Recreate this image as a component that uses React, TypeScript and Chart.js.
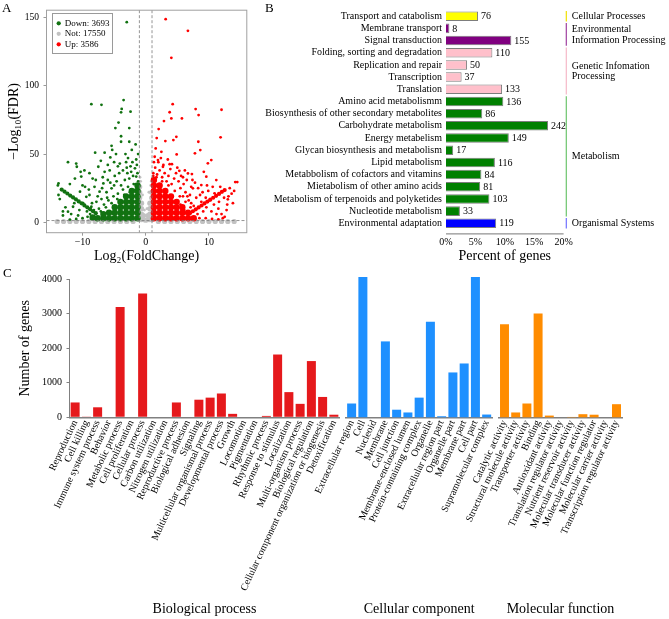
import React, { useEffect, useRef } from "react";
import { Chart, registerables } from "chart.js";

Chart.register(...registerables);

const SERIF = "'Liberation Serif', 'Times New Roman', Times, serif";
Chart.defaults.font.family = SERIF;
Chart.defaults.color = "#000";

// ---------------- Panel A : volcano ----------------
const LEGEND_LABELS = ["Down: 3693", "Not: 17550", "Up: 3586"];
const FC_CUTS = [-1, 1];
const FDR_CUT = 1.3;
const GREEN = "#117211";
const RED = "#ff0000";
const GRAY = "#c2c2c2";

const DOWN_POINTS: number[][] = [
  [-3.0, 146.5], [-8.6, 86.5], [-7.0, 86], [-3.5, 89.5], [-3.8, 83], [-3.9, 80.5], [-2.4, 81], [-4.3, 73],
  [-4.8, 69], [-2.6, 69], [-3.9, 63], [-3.9, 59], [-2.6, 59], [-5.4, 56], [-5.3, 53], [-8.0, 51], [-6.5, 51],
  [-4.7, 50], [-5.6, 47.5], [-7.1, 45], [-11.0, 43], [-2.8, 47], [-1.5, 46], [-9.7, 38], [-10.3, 37], [-8.4, 32],
  [-12.0, 28], [-13.9, 27], [-13.8, 20], [-13.1, 8], [-13.1, 5], [-11.8, 6], [-10.7, 5], [-8.9, 36], [-7.5, 40.7],
  [-6.5, 37], [-5.7, 38], [-6.0, 31], [-4.9, 34], [-4.1, 43], [-3.6, 38], [-3.0, 40], [-2.3, 37], [-1.7, 39.5],
  [-4.6, 30], [-3.3, 31], [-2.6, 32], [-1.5, 33.5], [-8.1, 26], [-7.3, 22.4], [-9.4, 18.7], [-10.4, 22.4],
  [-6.7, 28.5], [-5.4, 24.9], [-9.9, 14], [-11.5, 11.4], [-8.6, 11.4], [-12.3, 7.8], [-12.3, 44], [-10.9, 40.7],
  [-10.2, 33.5], [-13.8, 28.5], [-13.6, 17], [-1.2, 30], [-1.9, 28], [-2.8, 26], [-3.6, 24], [-4.4, 21], [-5.1, 19],
  [-5.9, 16], [-6.6, 13], [-7.4, 10], [-8.2, 9], [-1.3, 36], [-2.0, 34], [-3.9, 27], [-5.0, 27], [-6.2, 22],
  [-7.0, 17], [-7.8, 15], [-9.0, 24], [-10.0, 27], [-11.2, 32], [-6.0, 42], [-5.0, 44], [-3.2, 50], [-2.2, 53],
  [-1.6, 57], [-4.4, 41], [-9.2, 4], [-10.0, 3], [-11.0, 2.5], [-12.0, 2], [-8.8, 6], [-1.4, 42], [-2.1, 44],
  [-2.9, 36], [-1.2, 50], [-1.1, 26], [-1.6, 24], [-2.5, 22], [-3.4, 20], [-4.5, 17], [-5.4, 14], [-6.3, 11], [-7.1, 8],
  [-8.5, 14], [-7.6, 19], [-8.9, 20], [-6.9, 25], [-6.1, 18], [-9.6, 26], [-7.9, 31], [-6.8, 33], [-5.6, 29],
  [-4.2, 36], [-3.1, 44], [-2.4, 41], [-9.3, 8], [-10.5, 9], [-11.3, 14], [-12.7, 11],
];
const DOWN_CORE: number[][] = [
  [-1.3, 3], [-1.3, 7], [-1.3, 11], [-1.3, 15], [-1.3, 19], [-1.3, 23], [-1.3, 27],
  [-2.2, 3], [-2.2, 7], [-2.2, 11], [-2.2, 15], [-2.2, 19], [-2.2, 23],
  [-3.1, 3], [-3.1, 7], [-3.1, 11], [-3.1, 15], [-3.1, 19],
  [-4.0, 3], [-4.0, 7], [-4.0, 11], [-4.0, 15],
  [-4.9, 3], [-4.9, 7], [-4.9, 11],
  [-5.8, 3], [-5.8, 7], [-6.7, 3], [-6.7, 6], [-7.6, 3], [-8.4, 3.5],
];
const DOWN_ARM: number[][] = [
  [-13.3, 24], [-12.85, 22.5], [-12.4, 21.1], [-11.95, 19.6], [-11.5, 18.2], [-11.05, 16.8], [-10.6, 15.3],
  [-10.15, 13.9], [-9.7, 12.4], [-9.25, 11], [-8.8, 9.6], [-8.35, 8.1], [-7.9, 6.7],
];
const UP_POINTS: number[][] = [
  [3.16, 148.7], [6.68, 140.2], [4.06, 120.4], [4.27, 86.5], [3.79, 80.6], [7.9, 82.9], [12.0, 82.4], [8.37, 78.5],
  [4.06, 76.1], [5.73, 76.1], [2.89, 74.1], [2.05, 68.3], [4.85, 62.6], [1.74, 61.7], [3.11, 59.5], [4.38, 60.2],
  [11.85, 62.2], [8.33, 59], [1.58, 54.1], [2.48, 51.6], [4.9, 49.7], [7.79, 50.5], [8.64, 52.9], [1.42, 48],
  [10.38, 45.6], [9.84, 43.2], [1.94, 45.6], [2.73, 40.7], [3.79, 42.6], [4.15, 42.6], [5.32, 37.7], [6.68, 35.8],
  [7.31, 35.3], [9.59, 33.4], [11.17, 30.9], [14.17, 29.5], [14.49, 29.5], [8.8, 27.3], [7.47, 24.9], [10.9, 21.2],
  [13.0, 16.8], [1.5, 40], [2.2, 38], [3.0, 36], [3.6, 34], [4.5, 32], [5.2, 30], [6.0, 28], [1.8, 35], [2.6, 33],
  [3.3, 30], [4.1, 28], [5.5, 25], [6.3, 22], [7.0, 20], [2.0, 44], [2.8, 42], [4.8, 36], [5.9, 33], [6.5, 31],
  [7.8, 29], [8.3, 25], [9.0, 22], [9.5, 18], [10.1, 16], [10.8, 13], [11.5, 10], [12.0, 6], [12.5, 4], [8.5, 3],
  [9.5, 3], [10.5, 2.5], [11.5, 2.2], [12.2, 3], [13.3, 25], [9.7, 27], [1.2, 36], [1.3, 44], [2.4, 47], [3.5, 46],
  [5.0, 40], [6.2, 38], [7.2, 26], [8.0, 18], [8.8, 15], [9.6, 11], [10.4, 8], [11.2, 6], [7.6, 12], [6.8, 16],
  [5.9, 19], [1.2, 34], [1.7, 33], [2.6, 30], [3.6, 27], [4.6, 23], [5.4, 19], [6.3, 15], [7.1, 11], [13.6, 21],
  [12.9, 13], [11.6, 15], [12.8, 9], [14.0, 23], [13.1, 19],
  [6.1, 9], [7.2, 14], [8.2, 6], [9.1, 8], [5.5, 13], [6.6, 19], [8.6, 20], [9.9, 23], [10.6, 26], [11.8, 26],
  [12.4, 18], [13.8, 14], [3.9, 39], [5.6, 34], [7.4, 31], [9.2, 37],
];
const UP_CORE: number[][] = [
  [1.3, 3], [1.3, 7], [1.3, 11], [1.3, 15], [1.3, 19], [1.3, 23], [1.3, 27], [1.3, 31],
  [2.2, 3], [2.2, 7], [2.2, 11], [2.2, 15], [2.2, 19], [2.2, 23], [2.2, 27],
  [3.1, 3], [3.1, 7], [3.1, 11], [3.1, 15], [3.1, 19], [3.1, 23],
  [4.0, 3], [4.0, 7], [4.0, 11], [4.0, 15], [4.0, 19],
  [4.9, 3], [4.9, 7], [4.9, 11], [4.9, 15],
  [5.8, 3], [5.8, 7], [5.8, 11], [6.7, 3], [6.7, 7], [7.6, 3],
];
const UP_ARM: number[][] = [
  [7.0, 6.7], [7.46, 8.1], [7.92, 9.5], [8.38, 10.9], [8.84, 12.3], [9.3, 13.8], [9.76, 15.2],
  [10.22, 16.6], [10.68, 18.0], [11.14, 19.4], [11.6, 20.8], [12.06, 22.3], [12.5, 23.6],
];
const NOT_POINTS: number[][] = [
  [-0.8, 30], [-0.5, 20], [0.5, 22], [0.8, 27], [-0.2, 9], [0.2, 10], [-0.9, 33], [0.9, 30],
];
const NOT_CORE: number[][] = [
  [-0.95, 2], [-0.95, 6], [-0.95, 10], [-0.95, 14], [-0.95, 18], [-0.95, 22], [-0.95, 26],
  [-0.65, 2], [-0.65, 6], [-0.65, 10], [-0.65, 14], [-0.35, 2], [-0.35, 5], [0, 1.5],
  [0.35, 2], [0.35, 5], [0.65, 2], [0.65, 6], [0.65, 10], [0.65, 14],
  [0.95, 2], [0.95, 6], [0.95, 10], [0.95, 14], [0.95, 18], [0.95, 22],
  [-14, 0.6], [-13, 0.6], [-12, 0.6], [-11, 0.6], [-10, 0.6], [-9, 0.6], [-8, 0.6], [-7, 0.6], [-6, 0.6],
  [-5, 0.6], [-4, 0.6], [-3, 0.6], [-2, 0.6], [2, 0.6], [3, 0.6], [4, 0.6], [5, 0.6], [6, 0.6], [7, 0.6],
  [8, 0.6], [9, 0.6], [10, 0.6], [11, 0.6], [12, 0.6], [13, 0.6], [14, 0.6],
];

// ---------------- Panel B : KEGG ----------------
const KEGG_LABELS = [
  "Transport and catabolism", "Membrane transport", "Signal transduction", "Folding, sorting and degradation",
  "Replication and repair", "Transcription", "Translation", "Amino acid metabolismm",
  "Biosynthesis of other secondary metabolites", "Carbohydrate metabolism", "Energy metabelism",
  "Glycan biosynthesis and metabolism", "Lipid metabolism", "Metabbolism of cofactors and vitamins",
  "Mietabolism of other amino acids", "Metabolism of terpenoids and polyketides", "Nucleotide metabolism",
  "Environmental adaptation",
];
const KEGG_COUNTS = [76, 8, 155, 110, 50, 37, 133, 136, 86, 242, 149, 17, 116, 84, 81, 103, 33, 119];
const KEGG_TOTAL = 1395;
const KEGG_PERCENT_TICKS = [0, 5, 10, 15, 20];
const KEGG_GROUP_NAMES = [
  ["Cellular Processes"], ["Environmental", "Information Processing"], ["Genetic Infomation", "Processing"],
  ["Metabolism"], ["Organismal Systems"],
];
const KEGG_GROUP_SPANS = [[0, 0], [1, 2], [3, 6], [7, 16], [17, 17]];
const KEGG_GROUP_COLORS = ["#ffff00", "#800080", "#ffc0cb", "#008000", "#0000ff"];
const KEGG_LINE_COLORS = ["#f0e000", "#a040a0", "#f5b8c8", "#6cc46c", "#7070ff"];

// ---------------- Panel C : GO ----------------
const BP_LABELS = [
  "Reproduction", "Cell killing", "Immune system process", "Behavior", "Metabolic process", "Cell proliferation",
  "Cellular process", "Carbon utilization", "Nitrogen utilization", "Reproductive process", "Biological adhesion",
  "Signaling", "Multicellular organismal process", "Developmental process", "Growth", "Locomotion", "Pigmentation",
  "Rhythmic process", "Response to stimulus", "Localization", "Multi-organism process", "Biological regulation",
  "Cellular component organization or biogenesis", "Detoxification",
];
const BP_VALUES = [430, 20, 290, 0, 3200, 0, 3590, 0, 0, 430, 0, 510, 570, 690, 100, 0, 0, 40, 1820, 730, 390, 1630, 590, 75];
const CC_LABELS = [
  "Extracellular region", "Cell", "Nucleoid", "Membrane", "Cell junction", "Membrane-enclosed lumen",
  "Protein-containing complex", "Organelle", "Extracellular region part", "Organelle part", "Membrane part",
  "Cell part", "Supramolecular complex",
];
const CC_VALUES = [400, 4070, 0, 2200, 220, 140, 570, 2770, 30, 1300, 1560, 4070, 80];
const MF_LABELS = [
  "Catalytic activity", "Structural molecule activity", "Transporter activity", "Binding", "Antioxidant activity",
  "Translation regulator activity", "Nutrient reservoir activity", "Molecular transducer activity",
  "Molecular function regulator", "Molecular carrier activity", "Transcription regulator activity",
];
const MF_VALUES = [2700, 140, 400, 3010, 50, 0, 10, 90, 75, 0, 380];
const GO_MAX = 4000;
const GO_STEP = 1000;

// ---------------- helpers ----------------
const pts = (arr: number[][]) => arr.map(([x, y]) => ({ x, y }));
const signed = (v: number) => (v < 0 ? "\u2212" + Math.abs(v) : String(v));

const LEGEND_DX = 9.2;
const LEGEND_DY = 17.3;

const volcanoDecor = {
  id: "volcanoDecor",
  afterLayout(chart: any) {
    const lg = chart.legend;
    if (!lg) return;
    lg.left += LEGEND_DX;
    lg.right += LEGEND_DX;
    lg.top += LEGEND_DY;
    lg.bottom += LEGEND_DY;
  },
  afterDatasetsDraw(chart: any) {
    const { ctx, chartArea: a, scales } = chart;
    ctx.save();
    ctx.setLineDash([3, 2]);
    ctx.strokeStyle = "#7a7a7a";
    ctx.lineWidth = 0.8;
    FC_CUTS.forEach((v) => {
      const px = scales.x.getPixelForValue(v);
      ctx.beginPath();
      ctx.moveTo(px, a.top);
      ctx.lineTo(px, a.bottom);
      ctx.stroke();
    });
    const py = scales.y.getPixelForValue(FDR_CUT);
    ctx.beginPath();
    ctx.moveTo(a.left, py);
    ctx.lineTo(a.right, py);
    ctx.stroke();
    ctx.restore();
  },
  afterDraw(chart: any) {
    const { ctx, chartArea: a } = chart;
    ctx.save();
    ctx.strokeStyle = "#a0a0a0";
    ctx.lineWidth = 1;
    ctx.strokeRect(a.left, a.top, a.right - a.left, a.bottom - a.top);
    const hb = chart.legend && chart.legend.legendHitBoxes;
    if (hb && hb.length) {
      const L = Math.min(...hb.map((h: any) => h.left)) - 5;
      const T = Math.min(...hb.map((h: any) => h.top)) - 6;
      const R = Math.max(...hb.map((h: any) => h.left + h.width)) + 3;
      const B = Math.max(...hb.map((h: any) => h.top + h.height)) + 4;
      ctx.strokeStyle = "#9a9a9a";
      ctx.strokeRect(Math.round(L) + 0.5, Math.round(T) + 0.5, Math.round(R - L), Math.round(B - T));
    }
    ctx.restore();
  },
};

function volcanoConfig(): any {
  const common = { pointStyle: "circle", pointBorderWidth: 0, borderWidth: 0, pointHoverRadius: 0 };
  const ds = (label: string, data: number[][], color: string, r: number, order: number) => ({
    ...common, label, data: pts(data), backgroundColor: color, borderColor: color, pointRadius: r, order,
  });
  return {
    type: "scatter",
    data: {
      datasets: [
        ds(LEGEND_LABELS[0], DOWN_POINTS, GREEN, 1.4, 1),
        ds(LEGEND_LABELS[1], NOT_POINTS, GRAY, 1.4, 5),
        ds(LEGEND_LABELS[2], UP_POINTS, RED, 1.4, 1),
        ds("down core", DOWN_CORE, GREEN, 3.2, 2),
        ds("down arm", DOWN_ARM, GREEN, 2.1, 2),
        ds("not core", NOT_CORE, GRAY, 2.6, 6),
        ds("up core", UP_CORE, RED, 3.2, 2),
        ds("up arm", UP_ARM, RED, 2.1, 2),
      ],
    },
    options: {
      animation: false,
      responsive: false,
      maintainAspectRatio: false,
      layout: { padding: { top: 10, right: 3, left: 0, bottom: 0 } },
      plugins: {
        legend: {
          position: "chartArea",
          align: "start",
          labels: {
            usePointStyle: true,
            boxWidth: 3,
            boxHeight: 3,
            padding: 1.5,
            color: "#000",
            font: { size: 9, family: SERIF },
            filter: (it: any) => it.datasetIndex < 3,
            sort: (a: any, b: any) => a.datasetIndex - b.datasetIndex,
          },
        },
        tooltip: { enabled: false },
      },
      scales: {
        x: {
          type: "linear",
          min: -15.7,
          max: 16,
          ticks: { stepSize: 10, includeBounds: false, font: { size: 10 }, color: "#000", padding: 1, callback: (v: number) => signed(v) },
          grid: { display: true, drawOnChartArea: false, tickLength: 3, color: "#999" },
          border: { display: false },
          title: { display: true, text: "Log\u2082(FoldChange)", font: { size: 14 }, color: "#000", padding: { top: 0, bottom: 0.6 } },
          afterFit: (s: any) => { s.height = 265 - 232.7; },
        },
        y: {
          type: "linear",
          min: -7.6,
          max: 155.3,
          ticks: { stepSize: 50, includeBounds: false, font: { size: 9.5 }, color: "#000", padding: 4.5, callback: (v: number) => signed(v) },
          grid: { display: true, drawOnChartArea: false, tickLength: 3, color: "#999" },
          border: { display: false },
          title: { display: true, text: "\u2212Log\u2081\u2080(FDR)", font: { size: 14 }, color: "#000", padding: { top: 5.6, bottom: 0 } },
          afterFit: (s: any) => { s.width = 46.5; },
        },
      },
    },
    plugins: [volcanoDecor],
  };
}

const keggDecor = {
  id: "keggDecor",
  afterDatasetsDraw(chart: any) {
    const { ctx, chartArea: a, scales } = chart;
    const y = scales.y;
    ctx.save();
    ctx.strokeStyle = "#777";
    ctx.lineWidth = 1;
    ctx.beginPath();
    ctx.moveTo(a.left, a.bottom + 4.5);
    ctx.lineTo(a.right, a.bottom + 4.5);
    ctx.stroke();
    ctx.font = `10px ${SERIF}`;
    ctx.fillStyle = "#000";
    ctx.textBaseline = "middle";
    ctx.textAlign = "left";
    const meta = chart.getDatasetMeta(0);
    meta.data.forEach((el: any, i: number) => {
      ctx.fillText(String(KEGG_COUNTS[i]), el.x + 3, el.y + 0.5);
    });
    const rowH = y.getPixelForValue(1) - y.getPixelForValue(0);
    const lx = a.right + 2.7;
    KEGG_GROUP_SPANS.forEach(([f, t], gi) => {
      const top = y.getPixelForValue(f) - rowH / 2 + 0.8;
      const bot = y.getPixelForValue(t) + rowH / 2 - 0.8;
      ctx.strokeStyle = KEGG_LINE_COLORS[gi];
      ctx.lineWidth = 1.2;
      ctx.beginPath();
      ctx.moveTo(lx, top);
      ctx.lineTo(lx, bot);
      ctx.stroke();
      const lines = KEGG_GROUP_NAMES[gi];
      const c = (top + bot) / 2;
      const lh = 10.5;
      lines.forEach((ln, k) => {
        ctx.fillText(ln, lx + 5.5, c + (k - (lines.length - 1) / 2) * lh + 0.5);
      });
    });
    ctx.restore();
  },
};

function keggConfig(): any {
  const rowColors = KEGG_LABELS.map((_, i) => {
    const gi = KEGG_GROUP_SPANS.findIndex(([f, t]) => i >= f && i <= t);
    return KEGG_GROUP_COLORS[gi];
  });
  const maxV = (KEGG_TOTAL * KEGG_PERCENT_TICKS[KEGG_PERCENT_TICKS.length - 1]) / 100;
  return {
    type: "bar",
    data: {
      labels: KEGG_LABELS,
      datasets: [{ data: KEGG_COUNTS, backgroundColor: rowColors, borderColor: "#7d7d7d", borderWidth: 1, barPercentage: 0.78, categoryPercentage: 1 }],
    },
    options: {
      indexAxis: "y",
      animation: false,
      responsive: false,
      maintainAspectRatio: false,
      layout: { padding: { top: 10.1, right: 105.4, left: 0, bottom: 0 } },
      plugins: { legend: { display: false }, tooltip: { enabled: false } },
      scales: {
        x: {
          min: 0,
          max: maxV,
          ticks: { stepSize: maxV / 4, font: { size: 10 }, color: "#000", padding: 6.5, callback: (v: number) => Math.round((v / KEGG_TOTAL) * 100) + "%" },
          grid: { display: false, drawTicks: false },
          border: { display: false },
          title: { display: true, text: "Percent of genes", font: { size: 14 }, color: "#000", padding: { top: 0, bottom: 0.6 } },
          afterFit: (s: any) => { s.height = 265 - 229.4; },
        },
        y: {
          ticks: { autoSkip: false, font: { size: 10 }, color: "#000", padding: 4 },
          grid: { display: false, drawTicks: false },
          border: { display: false },
          afterFit: (s: any) => { s.width = 196; },
        },
      },
    },
    plugins: [keggDecor],
  };
}

function goConfig(labels: string[], values: number[], color: string, title: string, left: number, right: number, showY: boolean): any {
  return {
    type: "bar",
    data: {
      labels,
      datasets: [{ data: values, backgroundColor: color, borderWidth: 0, barPercentage: 0.8, categoryPercentage: 1, clip: false }],
    },
    options: {
      animation: false,
      responsive: false,
      maintainAspectRatio: false,
      layout: { padding: { top: 17.3, left: showY ? 0 : left, right, bottom: 0 } },
      plugins: { legend: { display: false }, tooltip: { enabled: false } },
      scales: {
        x: {
          ticks: { autoSkip: false, minRotation: 65, maxRotation: 65, font: { size: 10 }, color: "#000", padding: 1, labelOffset: 0 },
          grid: { display: false, drawTicks: false },
          border: { display: true, color: "#808080", width: 1.5 },
          title: { display: true, text: title, font: { size: 14 }, color: "#000", padding: { top: 0, bottom: 1.1 } },
          afterFit: (s: any) => { s.height = 201.7; },
        },
        y: {
          display: showY,
          min: 0,
          max: GO_MAX,
          ticks: { stepSize: GO_STEP, font: { size: 10 }, color: "#000", padding: 4.5, callback: (v: number) => String(v) },
          grid: { display: true, drawOnChartArea: false, tickLength: 3, color: "#808080" },
          border: { display: true, color: "#808080" },
          title: { display: showY, text: "Number of genes", font: { size: 14 }, color: "#000", padding: { top: 17.4, bottom: 0 } },
          afterFit: (s: any) => { if (showY) s.width = left; },
        },
      },
    },
  };
}

export default function App() {
  const aRef = useRef<HTMLCanvasElement>(null);
  const bRef = useRef<HTMLCanvasElement>(null);
  const c1Ref = useRef<HTMLCanvasElement>(null);
  const c2Ref = useRef<HTMLCanvasElement>(null);
  const c3Ref = useRef<HTMLCanvasElement>(null);

  useEffect(() => {
    const charts = [
      new Chart(aRef.current as HTMLCanvasElement, volcanoConfig()),
      new Chart(bRef.current as HTMLCanvasElement, keggConfig()),
      new Chart(c1Ref.current as HTMLCanvasElement, goConfig(BP_LABELS, BP_VALUES, "#e5191c", "Biological process", 69.5, 669 - 339.5, true)),
      new Chart(c2Ref.current as HTMLCanvasElement, goConfig(CC_LABELS, CC_VALUES, "#1e90ff", "Cellular component", 346, 669 - 492.3, false)),
      new Chart(c3Ref.current as HTMLCanvasElement, goConfig(MF_LABELS, MF_VALUES, "#ff8c00", "Molecular function", 498.9, 669 - 622.1, false)),
    ];
    return () => charts.forEach((c) => c.destroy());
  }, []);

  const abs = (l: number, t: number, w: number, h: number): React.CSSProperties => ({
    position: "absolute", left: l, top: t, width: w, height: h,
  });
  const letter: React.CSSProperties = { position: "absolute", fontFamily: SERIF, fontSize: 13, lineHeight: "13px", color: "#000" };

  return (
    <div style={{ position: "fixed", left: 0, top: 0, width: 669, height: 619, background: "#fff", overflow: "hidden" }}>
      <canvas ref={c1Ref} width={669} height={357} style={abs(0, 262, 669, 357)} />
      <canvas ref={c2Ref} width={669} height={357} style={abs(0, 262, 669, 357)} />
      <canvas ref={c3Ref} width={669} height={357} style={abs(0, 262, 669, 357)} />
      <canvas ref={aRef} width={250} height={265} style={abs(0, 0, 250, 265)} />
      <canvas ref={bRef} width={419} height={265} style={abs(250, 0, 419, 265)} />
      <div style={{ ...letter, left: 2, top: 1 }}>A</div>
      <div style={{ ...letter, left: 265, top: 1 }}>B</div>
      <div style={{ ...letter, left: 3, top: 266 }}>C</div>
    </div>
  );
}
